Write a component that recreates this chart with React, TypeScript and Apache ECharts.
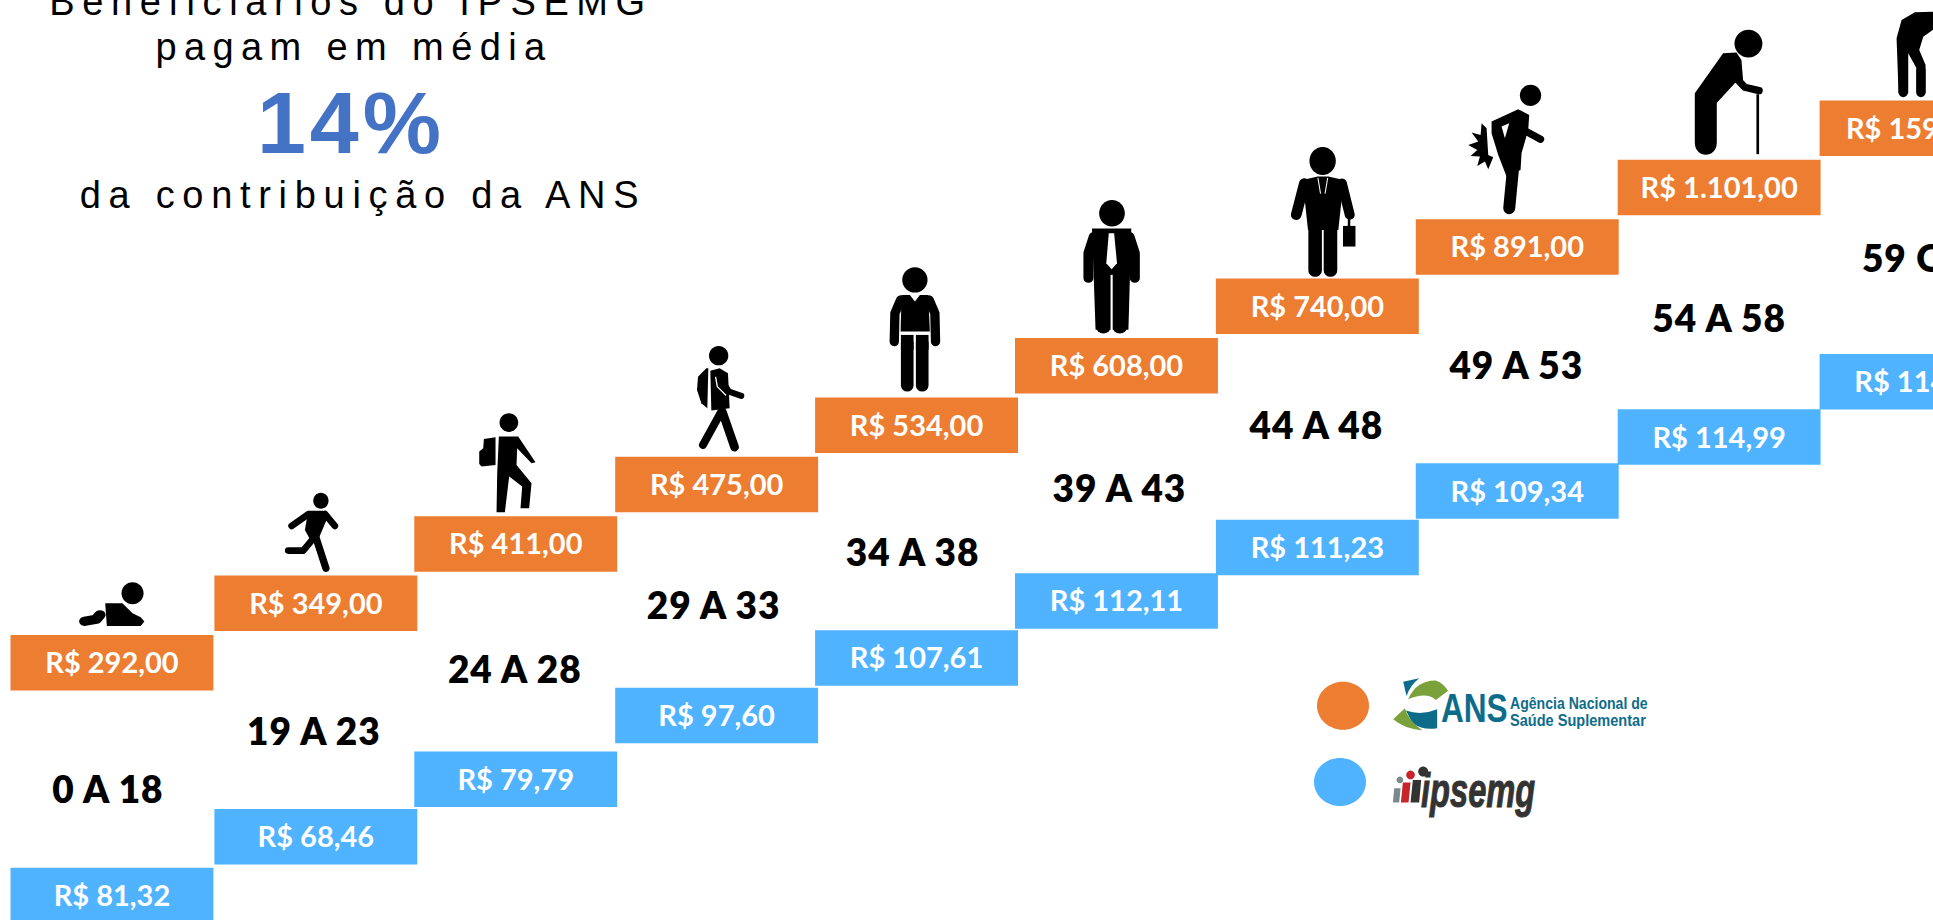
import React, { useEffect, useRef } from "react";
import * as echarts from "echarts";

// ---------- data ----------
const ageBands = ["0 A 18", "19 A 23", "24 A 28", "29 A 33", "34 A 38", "39 A 43", "44 A 48", "49 A 53", "54 A 58", "59 OU +"];
const ansLabels = ["R$ 292,00", "R$ 349,00", "R$ 411,00", "R$ 475,00", "R$ 534,00", "R$ 608,00", "R$ 740,00", "R$ 891,00", "R$ 1.101,00", "R$ 1596,00"];
const ipsemgLabels = ["R$ 81,32", "R$ 68,46", "R$ 79,79", "R$ 97,60", "R$ 107,61", "R$ 112,11", "R$ 111,23", "R$ 109,34", "R$ 114,99", "R$ 114,50"];
// height of each step on the staircase (in steps)
const ansSteps = [0, 1, 2, 3, 4, 5, 6, 7, 8, 9];
const ipsemgSteps = [-3.92, -2.93, -1.96, -0.89, 0.08, 1.04, 1.94, 2.89, 3.8, 4.73];
const ageSteps = [-2.59, -1.6, -0.56, 0.52, 1.4, 2.49, 3.54, 4.55, 5.35, 6.35];
const titleLines = ["Beneficiários do IPSEMG", "pagam em média", "14%", "da contribuição da ANS"];

// ---------- styles ----------
const ORANGE = "#ED7D31";
const BLUE = "#4FB3FF";
const BOX_STEPS = 0.934;
const BOX_NUDGE = [0, 3, 2, 2, 1, 0, 0, -1, 0, 1];
const AGE_NUDGE = [-4, 1, 1, -1, -3, 3, -1, -2, 0, 15];

type Spec = any[];
const e = (cx: number, cy: number, rx: number, ry: number): Spec => ["e", cx, cy, rx, ry];
const l = (w: number, ...p: number[]): Spec => ["l", w, "#000", p];
const lw = (w: number, ...p: number[]): Spec => ["l", w, "#fff", p];
const a = (...p: number[]): Spec => ["a", "#000", p];
const aw = (...p: number[]): Spec => ["a", "#fff", p];

const pairs = (p: number[]) => {
  const out: number[][] = [];
  for (let i = 0; i < p.length; i += 2) out.push([p[i], p[i + 1]]);
  return out;
};

const drawSpecs = (specs: Spec[]) =>
  specs.map((s) => {
    if (s[0] === "e") return { type: "ellipse", shape: { cx: s[1], cy: s[2], rx: s[3], ry: s[4] }, style: { fill: "#000" } };
    if (s[0] === "l")
      return {
        type: "polyline",
        shape: { points: pairs(s[3]) },
        style: { stroke: s[2], lineWidth: s[1], lineCap: "round", lineJoin: "round", fill: "none" },
      };
    return { type: "polygon", shape: { points: pairs(s[2]) }, style: { fill: s[1] } };
  });

// silhouettes: [dx, dy, scaleX, scaleY, parts]
const figures: any[] = [
  [-112, -75, 1 / 2.45, 1 / 3, [
    e(325, 100, 27, 33),
    a(258, 130, 300, 130, 325, 160, 345, 172, 354, 185, 345, 198, 262, 198),
    l(28, 208, 184, 236, 178, 245, 165),
  ]],
  [-52.9, -95.6, 1 / 3, 1 / 3, [
    e(183, 62, 23, 24),
    a(145, 92, 190, 92, 205, 108, 178, 172, 152, 182, 135, 150),
    l(20, 95, 138, 145, 103),
    l(20, 195, 102, 225, 138),
    l(20, 158, 178, 130, 212, 85, 212),
    l(22, 168, 172, 198, 265),
  ]],
  [-93.8, -176.2, 1 / 3, 1 / 3, [
    e(267, 248, 28, 28),
    a(192, 297, 227, 292, 227, 375, 185, 380, 178, 372, 178, 335, 190, 325),
    a(237, 290, 295, 290, 347, 367, 335, 370, 292, 325, 290, 375, 335, 430, 328, 505, 302, 505, 307, 440, 268, 410, 255, 517, 230, 517, 232, 400),
  ]],
  [-294.7, -116.8, 1 / 3, 1 / 3, [
    e(897, 47, 29, 29),
    a(872, 92, 900, 85, 925, 100, 930, 205, 875, 212),
    a(835, 110, 860, 85, 866, 85, 863, 205, 845, 190, 832, 150),
    lw(4, 888, 112, 893, 140, 918, 165),
    l(18, 915, 135, 928, 155, 965, 168),
    l(24, 905, 215, 850, 315),
    l(26, 908, 215, 945, 322),
  ]],
  [-55.6, -147.4, 1 / 3, 1 / 3, [
    e(165, 90, 38, 38),
    a(125, 135, 150, 135, 165, 155, 180, 135, 205, 135, 210, 245, 122, 245),
    l(28, 122, 150, 105, 190, 103, 275),
    l(28, 208, 150, 225, 190, 227, 275),
    a(123, 255, 161, 255, 161, 300, 123, 300),
    a(168, 255, 206, 255, 206, 300, 168, 300),
    l(38, 142, 280, 142, 406),
    l(38, 187, 280, 187, 406),
  ]],
  [-256.5, -208, 1 / 2.8, 1 / 3, [
    e(706, 250, 36, 40),
    a(650, 296, 760, 296, 752, 600, 660, 600),
    l(28, 655, 320, 640, 370, 640, 445),
    l(28, 755, 320, 770, 370, 770, 445),
    l(42, 682, 440, 682, 590),
    l(42, 728, 440, 728, 590),
    aw(702, 435, 708, 435, 708, 612, 702, 612),
    aw(697, 310, 712, 310, 720, 400, 705, 418, 690, 400),
  ]],
  [-457.4, -148.6, 1 / 2.8, 1 / 3, [
    e(1296, 93, 37, 42),
    a(1240, 150, 1282, 140, 1312, 140, 1355, 150, 1340, 300, 1255, 300),
    l(30, 1245, 160, 1222, 255),
    l(28, 1350, 160, 1372, 255),
    l(38, 1275, 290, 1275, 422),
    l(38, 1318, 290, 1318, 422),
    lw(3, 1283, 145, 1290, 190),
    lw(3, 1310, 145, 1303, 190),
    a(1353, 288, 1388, 288, 1388, 350, 1353, 350),
    l(7, 1370, 260, 1370, 290),
  ]],
  [-68.3, -149.2, 1 / 3, 1 / 3, [
    e(242, 76, 32, 32),
    a(125, 155, 205, 118, 238, 135, 235, 180, 215, 250, 212, 300, 170, 320, 145, 255, 125, 190),
    aw(155, 170, 178, 160, 165, 205),
    l(36, 190, 290, 178, 415),
    l(22, 230, 185, 272, 208),
    a(95, 160, 110, 175, 115, 255, 130, 262, 115, 298, 105, 275, 82, 288, 90, 260, 62, 258, 82, 240, 55, 225, 85, 215, 65, 188, 92, 195),
  ]],
  [-159.2, -159.8, 1 / 3, 1 / 3, [
    e(566, 131, 42, 42),
    a(490, 160, 530, 158, 545, 180, 550, 240, 525, 250, 470, 310, 470, 430, 405, 430, 405, 280),
    l(65, 438, 300, 438, 432),
    l(22, 530, 235, 555, 262, 598, 272),
    a(590, 283, 598, 283, 598, 463, 590, 463),
  ]],
  [-60.1, -100.4, 1 / 3, 1 / 3, [
    e(240, 15, 20, 25),
    a(110, 115, 125, 60, 165, 37, 225, 35, 225, 85, 190, 110, 178, 150, 197, 195, 197, 280, 170, 280, 170, 205, 145, 160, 145, 280, 116, 280),
    l(28, 130, 180, 130, 278),
    l(28, 183, 210, 183, 278),
  ]],
];

echarts.graphic.registerShape(
  "ansGreenTop",
  echarts.graphic.extendPath("M385 118 Q410 60 470 62 Q490 70 505 92 L468 120 Q440 95 385 118 Z", {})
);
echarts.graphic.registerShape(
  "ansTealTop",
  echarts.graphic.extendPath("M370 65 L418 55 Q392 75 380 108 Z", {})
);
echarts.graphic.registerShape(
  "ansTealBottom",
  echarts.graphic.extendPath("M378 152 Q425 168 472 148 L472 205 Q430 212 398 190 Z", {})
);
echarts.graphic.registerShape(
  "ansGreenBottom",
  echarts.graphic.extendPath("M340 178 L375 145 Q385 182 428 212 Q370 205 340 178 Z", {})
);

const boxSeries = (name: string, color: string, steps: number[], labels: string[]) => ({
  type: "custom",
  name,
  silent: true,
  data: ageBands.map((c, i) => [i, steps[i]]),
  encode: { x: 0, y: 1 },
  z: 2,
  renderItem: (params: any, api: any) => {
    const i = params.dataIndex;
    const [x0, top] = api.coord([i, api.value(1)]);
    const cx = x0 + BOX_NUDGE[i];
    const w = api.size([1, 0])[0] + 2;
    const h = api.size([0, BOX_STEPS])[1];
    return {
      type: "group",
      children: [
        { type: "rect", shape: { x: cx - w / 2, y: top, width: w, height: h }, style: { fill: color } },
        {
          type: "text",
          style: {
            text: labels[i],
            x: cx,
            y: top + h / 2 - 1,
            align: "center",
            verticalAlign: "middle",
            fill: "#fff",
            font: "bold 29px Lato",
          },
        },
      ],
    };
  },
});

const ageSeries = {
  type: "custom",
  name: "faixas",
  silent: true,
  data: ageBands.map((c, i) => [i, ageSteps[i]]),
  encode: { x: 0, y: 1 },
  z: 3,
  renderItem: (params: any, api: any) => {
    const [x, y] = api.coord([params.dataIndex, api.value(1)]);
    return {
      type: "text",
      style: {
        text: ageBands[params.dataIndex],
        x: x + AGE_NUDGE[params.dataIndex],
        y,
        align: "center",
        verticalAlign: "middle",
        fill: "#000",
        font: "800 37px Lato",
      },
    };
  },
};

const figureSeries = {
  type: "custom",
  name: "figuras",
  silent: true,
  data: ageBands.map((c, i) => [i, ansSteps[i]]),
  encode: { x: 0, y: 1 },
  z: 4,
  renderItem: (params: any, api: any) => {
    const [x, y] = api.coord([params.dataIndex, api.value(1)]);
    const [dx, dy, sx, sy, parts] = figures[params.dataIndex];
    return { type: "group", x: x + dx, y: y + dy, scaleX: sx, scaleY: sy, children: drawSpecs(parts) };
  },
};

const textSpacing: Record<string, number> = {
  [titleLines[0]]: 7.6,
  [titleLines[1]]: 7.4,
  [titleLines[2]]: 4,
  [titleLines[3]]: 7.7,
};
ageBands.forEach((t) => (textSpacing[t] = 1));

const titleText = (text: string, x: number, y: number, font: string, fill: string) => ({
  type: "text",
  silent: true,
  style: { text, x, y, align: "center", verticalAlign: "middle", font, fill },
});

const logoText = (text: string, x: number, y: number, scaleX: number, font: string, fill: string, stroke = 0) => ({
  type: "text",
  silent: true,
  x,
  y,
  scaleX,
  style: {
    text,
    x: 0,
    y: 0,
    align: "left",
    verticalAlign: "middle",
    font,
    fill,
    ...(stroke ? { stroke: fill, lineWidth: stroke } : {}),
  },
});

const graphics: any[] = [
  titleText(titleLines[0], 351, 2, "38px 'Liberation Sans'", "#000"),
  titleText(titleLines[1], 354, 47, "38px 'Liberation Sans'", "#000"),
  titleText(titleLines[2], 351, 122, "bold 88px 'Liberation Sans'", "#4472C4"),
  titleText(titleLines[3], 363, 195, "38px 'Liberation Sans'", "#000"),
  { type: "ellipse", silent: true, shape: { cx: 1343, cy: 705.7, rx: 26, ry: 24 }, style: { fill: ORANGE } },
  { type: "ellipse", silent: true, shape: { cx: 1340, cy: 782, rx: 26, ry: 24 }, style: { fill: BLUE } },
  {
    type: "group",
    silent: true,
    x: 1280,
    y: 660,
    scaleX: 1 / 3,
    scaleY: 1 / 3,
    children: [
      { type: "ansGreenTop", style: { fill: "#7BA23A" } },
      { type: "ansTealTop", style: { fill: "#0E6C8B" } },
      { type: "ansTealBottom", style: { fill: "#0E6C8B" } },
      { type: "ansGreenBottom", style: { fill: "#7BA23A" } },
      { type: "polygon", shape: { points: [[343, 385], [362, 385], [358, 428], [339, 428]] }, style: { fill: "#7A8A8C" } },
      { type: "circle", shape: { cx: 360, cy: 360, r: 10 }, style: { fill: "#7A8A8C" } },
      { type: "polygon", shape: { points: [[369, 368], [392, 368], [386, 428], [363, 428]] }, style: { fill: "#C8252B" } },
      { type: "circle", shape: { cx: 392, cy: 345, r: 13 }, style: { fill: "#C8252B" } },
      { type: "polygon", shape: { points: [[399, 360], [424, 360], [418, 428], [392, 428]] }, style: { fill: "#333" } },
      { type: "circle", shape: { cx: 430, cy: 335, r: 15 }, style: { fill: "#333" } },
    ],
  },
  logoText("ANS", 1441, 708, 0.77, "bold 41px 'Liberation Sans'", "#0E6C8B"),
  logoText("Agência Nacional de", 1510, 703, 0.88, "bold 16px 'Liberation Sans'", "#0E6C8B"),
  logoText("Saúde Suplementar", 1510, 720, 0.91, "bold 16px 'Liberation Sans'", "#0E6C8B"),
  logoText("ipsemg", 1421, 791, 0.68, "italic bold 48px 'Liberation Sans'", "#333", 1),
];

const option: any = {
  animation: false,
  backgroundColor: "#fff",
  grid: { left: 11.5, top: 41, width: 2009, height: 891, containLabel: false, outerBoundsMode: "none" },
  xAxis: { type: "category", data: ageBands, show: false },
  yAxis: { type: "value", min: -5, max: 10, show: false },
  series: [
    boxSeries("ANS", ORANGE, ansSteps, ansLabels),
    boxSeries("IPSEMG", BLUE, ipsemgSteps, ipsemgLabels),
    ageSeries,
    figureSeries,
  ],
  graphic: { elements: graphics },
};

export default function App() {
  const ref = useRef<HTMLDivElement>(null);
  useEffect(() => {
    document.body.style.margin = "0";
    const host = ref.current!;
    const chart = echarts.init(host, undefined, { renderer: "svg" });
    chart.setOption(option);
    const space = () => {
      host.querySelectorAll("text").forEach((t) => {
        const s = textSpacing[t.textContent || ""];
        if (s) (t as any).style.letterSpacing = s + "px";
      });
    };
    space();
    chart.on("finished", space);
    return () => chart.dispose();
  }, []);
  return <div ref={ref} style={{ width: 1933, height: 920, overflow: "hidden" }} />;
}
